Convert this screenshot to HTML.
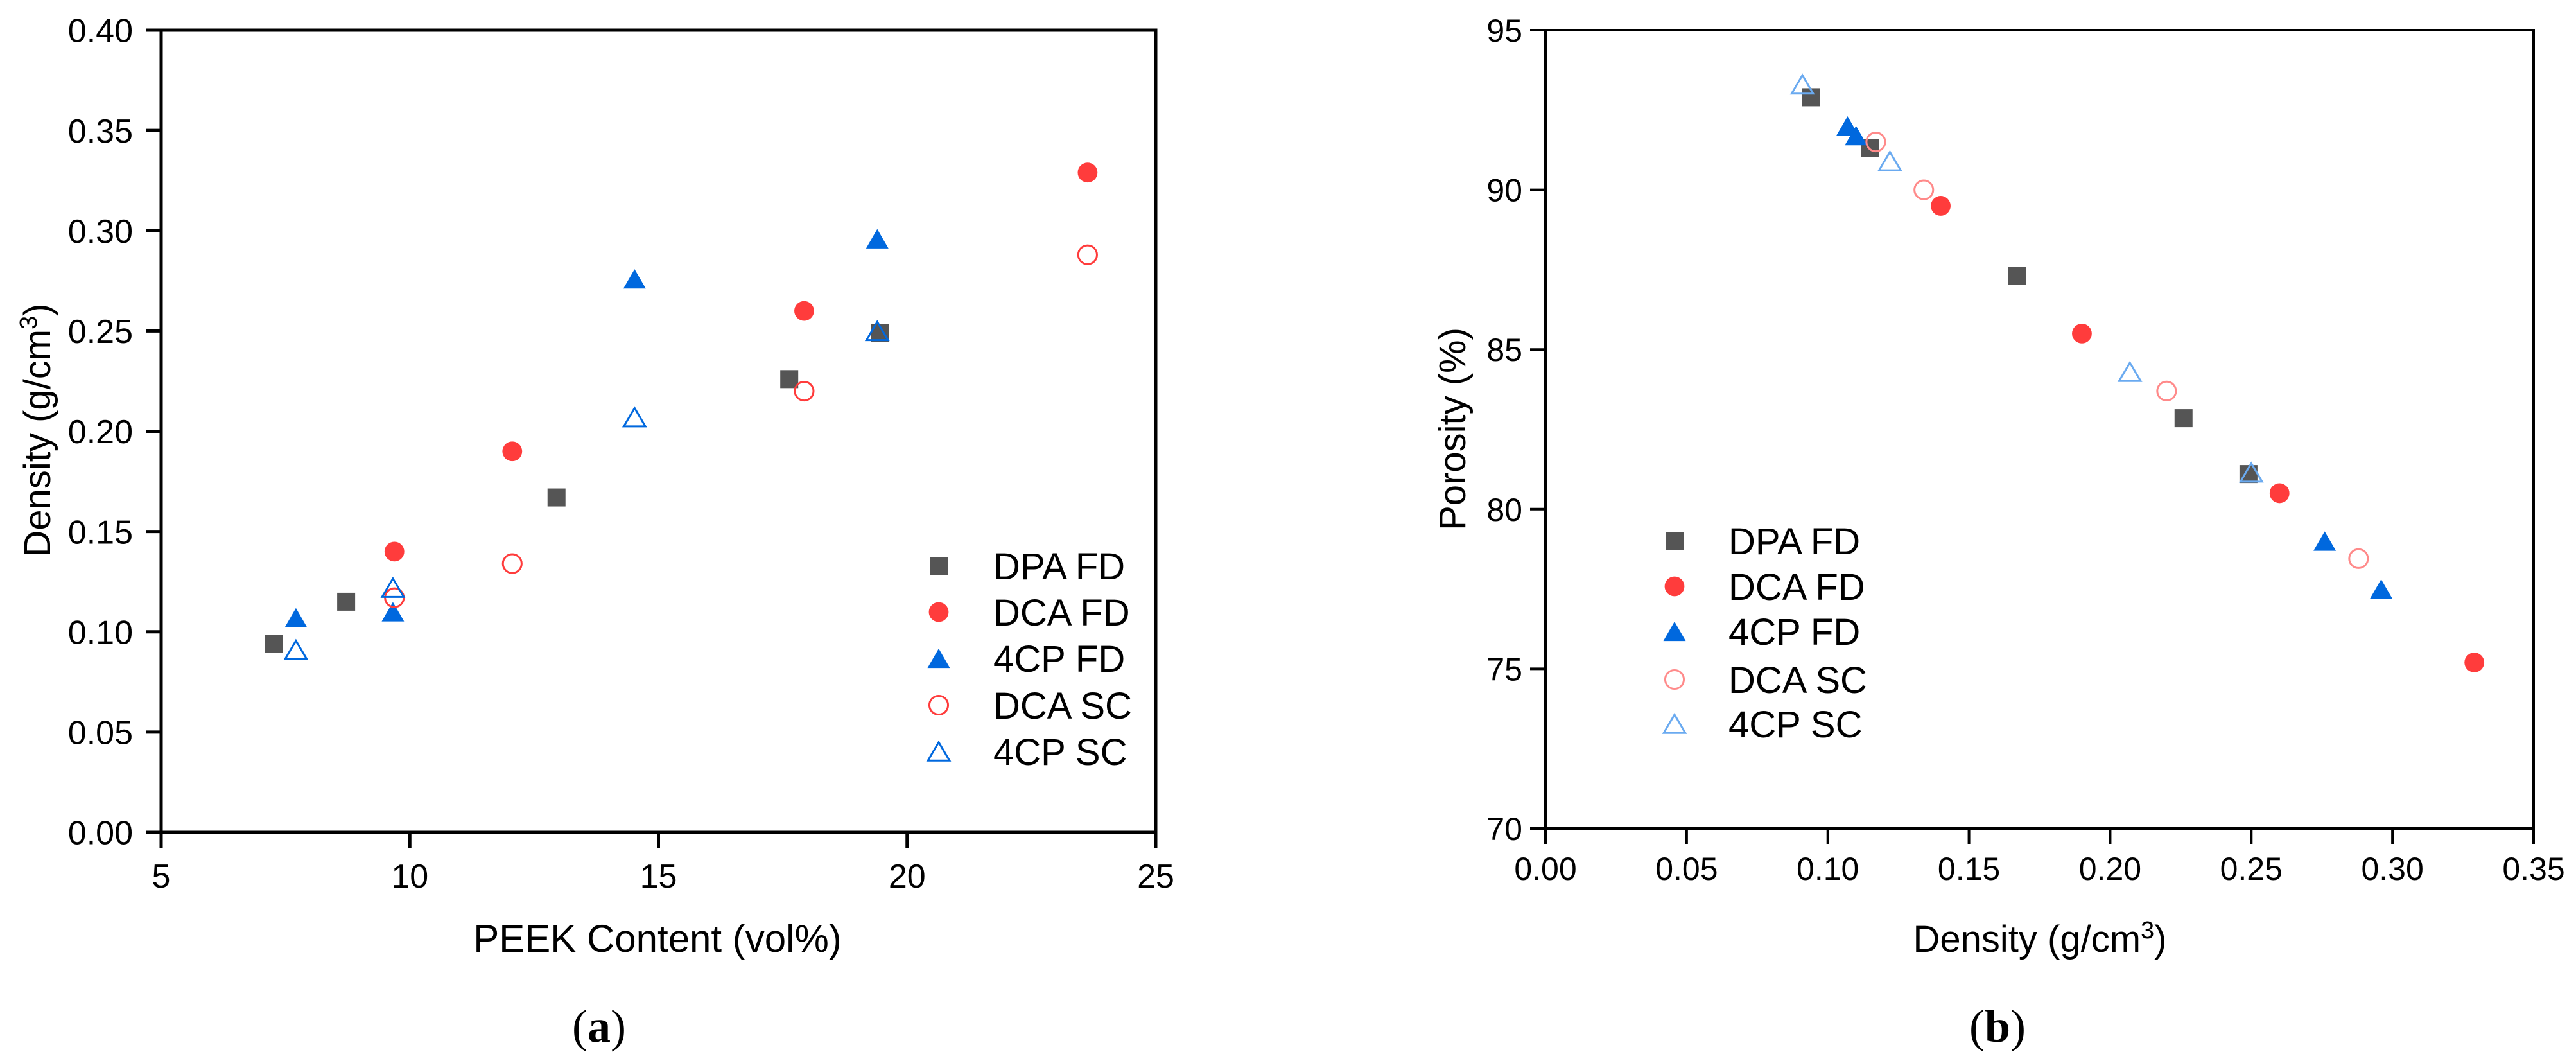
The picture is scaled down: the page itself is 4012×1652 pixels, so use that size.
<!DOCTYPE html>
<html><head><meta charset="utf-8">
<style>
html,body{margin:0;padding:0;background:#fff;}
svg{display:block;}
text{font-family:"Liberation Sans",Arial,sans-serif;fill:#000;}
</style></head>
<body>
<svg id="fig" width="4012" height="1652" viewBox="0 0 4012 1652" xmlns="http://www.w3.org/2000/svg"></svg>
<script>
// ---------- Panel (a) data ----------
const aSeriesNames = ["DPA FD","DCA FD","4CP FD","DCA SC","4CP SC"];
const aDPAx = [7.26, 8.72, 12.95, 17.63, 19.45];
const aDPAy = [0.094, 0.115, 0.167, 0.226, 0.249];
const aDCAx = [9.69, 12.06, 17.93, 23.63];
const aDCAy = [0.140, 0.190, 0.260, 0.329];
const a4CPx = [7.71, 9.66, 14.52, 19.40];
const a4CPy = [0.107, 0.110, 0.276, 0.296];
const aDCASCx = [9.69, 12.06, 17.93, 23.63];
const aDCASCy = [0.117, 0.134, 0.220, 0.288];
const a4CPSCx = [7.71, 9.66, 14.52, 19.40];
const a4CPSCy = [0.091, 0.122, 0.207, 0.250];
const aXTicks = [5, 10, 15, 20, 25];
const aYTicks = [0, 0.05, 0.10, 0.15, 0.20, 0.25, 0.30, 0.35, 0.40];
const aYTickLabels = ["0.00","0.05","0.10","0.15","0.20","0.25","0.30","0.35","0.40"];

// ---------- Panel (b) data ----------
const bDPAx = [0.094, 0.115, 0.167, 0.226, 0.249];
const bDPAy = [92.9, 91.3, 87.3, 82.85, 81.1];
const bDCAx = [0.140, 0.190, 0.260, 0.329];
const bDCAy = [89.5, 85.5, 80.5, 75.2];
const b4CPx = [0.107, 0.110, 0.276, 0.296];
const b4CPy = [92.0, 91.7, 79.0, 77.5];
const bDCASCx = [0.117, 0.134, 0.220, 0.288];
const bDCASCy = [91.5, 90.0, 83.7, 78.45];
const b4CPSCx = [0.091, 0.122, 0.207, 0.250];
const b4CPSCy = [93.3, 90.9, 84.3, 81.15];
const bXTicks = [0, 0.05, 0.10, 0.15, 0.20, 0.25, 0.30, 0.35];
const bXTickLabels = ["0.00","0.05","0.10","0.15","0.20","0.25","0.30","0.35"];
const bYTicks = [70, 75, 80, 85, 90, 95];

const NS = "http://www.w3.org/2000/svg";
const svg = document.getElementById('fig');
function mk(tag, attrs, parent){
  const e = document.createElementNS(NS, tag);
  for (const k in attrs) e.setAttribute(k, attrs[k]);
  (parent||svg).appendChild(e);
  return e;
}
const colDPA = "#555555", colDCA = "#ff3c3c", col4CP = "#0068de";

function marker(g, kind, cx, cy, s, light){
  let el;
  if (kind === 'sq') {
    el = mk('rect', {x:cx-s*0.5, y:cy-s*0.5, width:s, height:s, fill:colDPA}, g);
  } else if (kind === 'ci') {
    el = mk('circle', {cx:cx, cy:cy, r:s*0.55, fill:colDCA}, g);
  } else if (kind === 'tr') {
    const w=s*1.25, h=s*1.08;
    el = mk('polygon', {points:`${cx-w/2},${cy+h/2} ${cx+w/2},${cy+h/2} ${cx},${cy-h/2}`, fill:col4CP}, g);
  } else if (kind === 'oc') {
    el = mk('circle', {cx:cx, cy:cy, r:s*0.52, fill:"none", stroke: light?"#ff8a8a":colDCA, "stroke-width":3}, g);
  } else {
    const w=s*1.2, h=s*1.02;
    el = mk('polygon', {points:`${cx-w/2},${cy+h/2} ${cx+w/2},${cy+h/2} ${cx},${cy-h/2}`, fill:"none", stroke: light?"#6aaaf0":col4CP, "stroke-width":3}, g);
  }
  return el;
}

function panel(cfg){
  const {x0,x1,y0,y1,xmin,xmax,ymin,ymax,lw,tickFont} = cfg;
  const X = v => x0 + (v-xmin)/(xmax-xmin)*(x1-x0);
  const Y = v => y0 - (v-ymin)/(ymax-ymin)*(y0-y1);
  const g = mk('g', {});
  
  
  const frame = mk('rect', {x:x0, y:y1, width:x1-x0, height:y0-y1, fill:"none", stroke:"#000", "stroke-width":lw}, g);
  
  
  cfg.xTicks.forEach((t,i)=>{
    const tx = X(t);
    const tk = mk('line', {x1:tx, x2:tx, y1:y0, y2:y0+24, stroke:"#000", "stroke-width":lw}, g);
    
    
    const lb = mk('text', {x:tx, y:y0+cfg.xLabelDy, "text-anchor":"middle", "font-size":tickFont}, g);
    lb.textContent = cfg.xTickLabels[i];
    
    
  });
  cfg.yTicks.forEach((t,i)=>{
    const ty = Y(t);
    const tk = mk('line', {x1:x0-24, x2:x0, y1:ty, y2:ty, stroke:"#000", "stroke-width":lw}, g);
    
    
    const lb = mk('text', {x:x0-cfg.yLabelDx, y:ty+tickFont*0.36, "text-anchor":"end", "font-size":tickFont}, g);
    lb.textContent = cfg.yTickLabels[i];
    
    
  });
  const series = [
    ['sq', cfg.s[0], cfg.s[1], 'dpa-fd'],
    ['ci', cfg.s[2], cfg.s[3], 'dca-fd'],
    ['tr', cfg.s[4], cfg.s[5], '4cp-fd'],
    ['oc', cfg.s[6], cfg.s[7], 'dca-sc'],
    ['ot', cfg.s[8], cfg.s[9], '4cp-sc'],
  ];
  series.forEach(([kind, xs, ys, nm])=>{
    const sg = mk('g', {}, g);
    
    
    xs.forEach((xv,i)=>{
      const p = marker(sg, kind, X(xv), Y(ys[i]), cfg.ms, cfg.light);
      
      
    });
  });
  const lg = mk('g', {}, g);
  
  
  aSeriesNames.forEach((n,i)=>{
    const cy = cfg.legY[i];
    const kind = ['sq','ci','tr','oc','ot'][i];
    const m = marker(lg, kind, cfg.legX, cy, cfg.ms, cfg.light);
    
    
    const t = mk('text', {x:cfg.legTX, y:cy+21, "font-size":58}, lg);
    t.textContent = n;
    
    
  });
}

panel({name:'chart-a', x0:251, x1:1800, y0:1296, y1:47, xmin:5, xmax:25, ymin:0, ymax:0.40, lw:5, tickFont:52,
  xTicks:aXTicks, xTickLabels:aXTicks.map(String), yTicks:aYTicks, yTickLabels:aYTickLabels,
  xLabelDy:86, yLabelDx:44, ms:28, light:false,
  s:[aDPAx,aDPAy,aDCAx,aDCAy,a4CPx,a4CPy,aDCASCx,aDCASCy,a4CPSCx,a4CPSCy],
  legX:1462, legTX:1547, legY:[881,953,1025,1098,1170]});

panel({name:'chart-b', x0:2407, x1:3946, y0:1290, y1:47, xmin:0, xmax:0.35, ymin:70, ymax:95, lw:4, tickFont:50,
  xTicks:bXTicks, xTickLabels:bXTickLabels, yTicks:bYTicks, yTickLabels:bYTicks.map(String),
  xLabelDy:80, yLabelDx:36, ms:28, light:true,
  s:[bDPAx,bDPAy,bDCAx,bDCAy,b4CPx,b4CPy,bDCASCx,bDCASCy,b4CPSCx,b4CPSCy],
  legX:2608, legTX:2692, legY:[842,913,983,1058,1127]});
</script>
<script>
(function(){
  const NS="http://www.w3.org/2000/svg", s=document.getElementById('fig');
  function t(txt, attrs, name, style){
    const e=document.createElementNS(NS,'text');
    for(const k in attrs) e.setAttribute(k, attrs[k]);
    if (style) e.setAttribute('style', style);
    e.innerHTML = txt;
    
    
    s.appendChild(e);
  }
  t('Density (g/cm<tspan baseline-shift="super" font-size="38">3</tspan>)', {x:0,y:0,"font-size":58,"text-anchor":"middle",transform:"translate(78,670) rotate(-90)"}, 'y-axis-title-a');
  t('PEEK Content (vol%)', {x:1024,y:1482,"font-size":60,"text-anchor":"middle"}, 'x-axis-title-a');
  t('(<tspan font-weight="bold">a</tspan>)', {x:933,y:1622,"font-size":72,"text-anchor":"middle"}, 'caption-a', 'font-family:"Liberation Serif",serif');
  t('Porosity (%)', {x:0,y:0,"font-size":58,"text-anchor":"middle",transform:"translate(2282,668) rotate(-90)"}, 'y-axis-title-b');
  t('Density (g/cm<tspan baseline-shift="super" font-size="38">3</tspan>)', {x:3177,y:1482,"font-size":58,"text-anchor":"middle"}, 'x-axis-title-b');
  t('(<tspan font-weight="bold">b</tspan>)', {x:3111,y:1622,"font-size":72,"text-anchor":"middle"}, 'caption-b', 'font-family:"Liberation Serif",serif');
})();
</script>
</body></html>
